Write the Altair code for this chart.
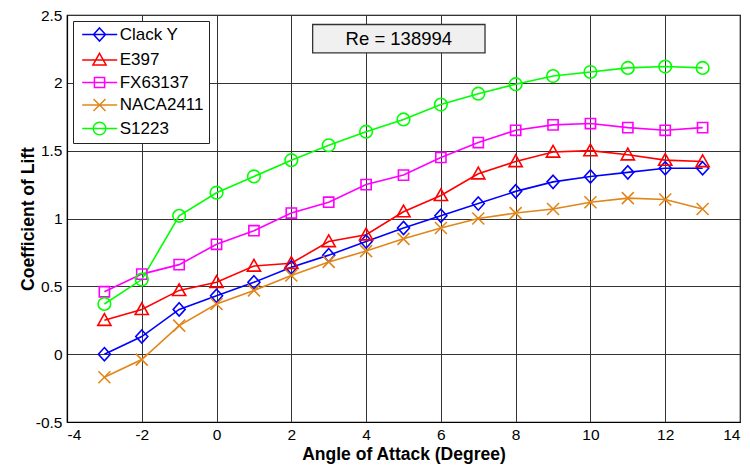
import altair as alt
import pandas as pd

# ---- data ----
angles = list(range(-3, 14))
airfoils = ["Clack Y", "E397", "FX63137", "NACA2411", "S1223"]
clack_y = [0.00, 0.13, 0.33, 0.43, 0.53, 0.64, 0.73, 0.83, 0.93, 1.02, 1.11, 1.20, 1.27, 1.31, 1.34, 1.37, 1.37]
e397 = [0.25, 0.33, 0.47, 0.53, 0.65, 0.67, 0.83, 0.88, 1.05, 1.17, 1.33, 1.42, 1.49, 1.50, 1.47, 1.43, 1.42]
fx63137 = [0.46, 0.59, 0.66, 0.81, 0.91, 1.04, 1.12, 1.25, 1.32, 1.45, 1.56, 1.65, 1.69, 1.70, 1.67, 1.65, 1.67]
naca2411 = [-0.17, -0.04, 0.21, 0.37, 0.47, 0.58, 0.68, 0.76, 0.85, 0.93, 1.00, 1.04, 1.07, 1.12, 1.15, 1.14, 1.07]
s1223 = [0.37, 0.55, 1.02, 1.19, 1.31, 1.43, 1.54, 1.64, 1.73, 1.84, 1.92, 1.99, 2.05, 2.08, 2.11, 2.12, 2.11]
series = [clack_y, e397, fx63137, naca2411, s1223]

x_ticks = [-4, -2, 0, 2, 4, 6, 8, 10, 12, 14]
y_ticks = [-0.5, 0, 0.5, 1, 1.5, 2, 2.5]

colors = ["#0000ff", "#ff0000", "#ff00ff", "#e0861a", "#00ff00"]

# marker outlines (unit box -1..1)
marker_paths = [
    "M0,-1.1L1,0L0,1.1L-1,0Z",
    "M0,-1.1L1.1,0.85L-1.1,0.85Z",
    "M-0.85,-0.85H0.85V0.85H-0.85Z",
    "M-1,-1L1,1M-1,1L1,-1",
    "M1.05,0A1.05,1.05 0 1,1 -1.05,0A1.05,1.05 0 1,1 1.05,0Z",
]
# legend symbols: line segment with the marker on it
mc = 2.17
l0, l1 = -0.72, 5.12
legend_paths = [
    f"M{l0},0H{l1}M{mc},-1.1L{mc+1},0L{mc},1.1L{mc-1},0Z",
    f"M{l0},0H{l1}M{mc},-1.1L{mc+1.1},0.85L{mc-1.1},0.85Z",
    f"M{l0},0H{l1}M{mc-0.85},-0.85H{mc+0.85}V0.85H{mc-0.85}Z",
    f"M{l0},0H{l1}M{mc-1},-1L{mc+1},1M{mc-1},1L{mc+1},-1",
    f"M{l0},0H{l1}M{mc+1.05},0A1.05,1.05 0 1,1 {mc-1.05},0A1.05,1.05 0 1,1 {mc+1.05},0Z",
]

annot_text = ["Re = 138994"]
annot_x = [2.57, 7.18]
annot_y = [2.221, 2.43]
annot_center = [4.875, 2.325]

rows = []
for name, vals in zip(airfoils, series):
    for a, v in zip(angles, vals):
        rows.append({"airfoil": name, "angle": a, "cl": v})
df = pd.DataFrame(rows)

box_df = pd.DataFrame({"x": [annot_x[0]], "x2": [annot_x[1]], "y": [annot_y[0]], "y2": [annot_y[1]],
                       "xc": [annot_center[0]], "yc": [annot_center[1]], "t": annot_text})

FONT = "Liberation Sans"

x_enc = alt.X("angle:Q", scale=alt.Scale(domain=[-4, 14], nice=False, zero=False),
              axis=alt.Axis(values=x_ticks, title="Angle of Attack (Degree)",
                            labelExpr="toString(datum.value)", labelPadding=5, titlePadding=3))
y_enc = alt.Y("cl:Q", scale=alt.Scale(domain=[-0.5, 2.5], nice=False, zero=False),
              axis=alt.Axis(values=y_ticks, title="Coefficient of Lift",
                            labelExpr="toString(datum.value)", labelPadding=5, titlePadding=-2))

color_scale = alt.Scale(domain=airfoils, range=colors)

base = alt.Chart(df)

lines = base.mark_line(strokeWidth=1.6).encode(
    x=x_enc, y=y_enc,
    color=alt.Color("airfoil:N", scale=color_scale, legend=None),
)

points = base.mark_point(filled=False, size=144, strokeWidth=1.6, opacity=1).encode(
    x=alt.X("angle:Q"), y=alt.Y("cl:Q"),
    color=alt.Color("airfoil:N", scale=color_scale, legend=None),
    shape=alt.Shape("airfoil:N", scale=alt.Scale(domain=airfoils, range=marker_paths), legend=None),
)

leg = dict(orient="none", legendX=6, legendY=6, title=None, labelFont=FONT, labelFontSize=17,
           labelColor="black", labelOffset=24.7, padding=5, strokeColor="#222222", fillColor="white",
           symbolSize=144, symbolStrokeWidth=1.5, rowPadding=4.5, zindex=2)

legend_layer = base.transform_filter("false").mark_point(filled=False, size=144, strokeWidth=1.5, opacity=1).encode(
    color=alt.Color("airfoil:N", scale=color_scale, legend=alt.Legend(**leg)),
    shape=alt.Shape("airfoil:N", scale=alt.Scale(domain=airfoils, range=legend_paths), legend=alt.Legend(**leg)),
)

box = alt.Chart(box_df).mark_rect(fill="#f0f0f0", stroke="#333333", strokeWidth=1.3).encode(
    x=alt.X("x:Q"), x2="x2:Q", y=alt.Y("y:Q"), y2="y2:Q")
box_text = alt.Chart(box_df).mark_text(font=FONT, fontSize=18.5, color="black").encode(
    x=alt.X("xc:Q"), y=alt.Y("yc:Q"), text="t:N")

chart = alt.layer(lines, points, legend_layer, box, box_text).resolve_scale(
    color="independent", shape="independent"
).properties(
    width=673, height=407,
    autosize=alt.AutoSizeParams(type="none"),
    padding={"left": 59, "top": 7, "right": 2, "bottom": 42},
).configure_view(
    stroke="black", strokeWidth=1.2
).configure_axis(
    grid=True, gridColor="#333333", gridWidth=1, gridOpacity=1,
    ticks=False, domainColor="black", domainWidth=1.2,
    labelFont=FONT, labelFontSize=15.5, labelColor="black",
    titleFont=FONT, titleFontSize=17.5, titleFontWeight="bold", titleColor="black",
)

chart.save("out.html", embed_options={"renderer": "svg", "actions": False})
